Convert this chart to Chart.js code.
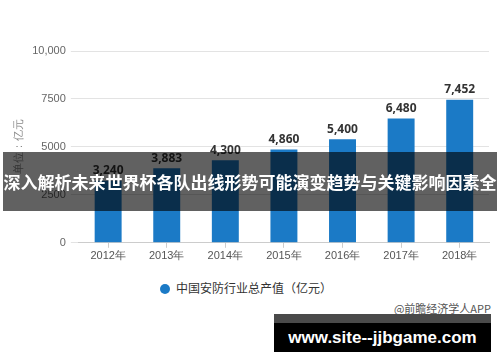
<!DOCTYPE html>
<html>
<head>
<meta charset="utf-8">
<script src="https://cdn.jsdelivr.net/npm/chart.js@4"></script>
<style>
    body { margin: 0; background: #fff; font-family: "Noto Sans CJK SC", "Noto Sans", sans-serif; }
    #wrap { position: relative; width: 500px; height: 362px; overflow: hidden; }
    #chartBox { position: absolute; left: 0; top: 0; width: 500px; height: 265px; }
    .legend { position: absolute; left: 160px; top: 279px; font-size: 12px; color: #333; }
    .legend .dot { display: inline-block; width: 10px; height: 10px; border-radius: 50%; background: #1b7ac6; vertical-align: -1px; margin-right: 6px; }
    .source { position: absolute; right: 9px; top: 300px; font-size: 11px; color: #555; }
    .banner { position: absolute; left: 3px; top: 152px; width: 494px; height: 59px; background: rgba(0,0,0,0.62);
              color: #fff; font-weight: bold; font-size: 17px; line-height: 59px; text-align: center; white-space: nowrap; }
    .site { position: absolute; left: 274px; top: 314px; width: 217px; height: 38px; background: #000;
            border-top: 9px solid #4a4a4a; box-sizing: border-box; color: #fff; font-weight: bold; font-size: 17px;
            line-height: 29px; text-align: center; white-space: nowrap; font-family: "Liberation Sans", sans-serif; }
</style>
</head>
<body>
<div id="wrap">
    <div id="chartBox"><canvas id="chart"></canvas></div>
    <div class="legend"><span class="dot"></span>中国安防行业总产值（亿元）</div>
    <div class="source">@前瞻经济学人APP</div>
    <div class="banner">深入解析未来世界杯各队出线形势可能演变趋势与关键影响因素全</div>
    <div class="site">www.site--jjbgame.com</div>
</div>
<script>
const years = ['2012年', '2013年', '2014年', '2015年', '2016年', '2017年', '2018年'];
const output = [3240, 3883, 4300, 4860, 5400, 6480, 7452];
const yTickLabels = { 0: '0', 2500: '2500', 5000: '5000', 7500: '7500', 10000: '10,000' };

// values above each bar
const valueLabels = {
    id: 'valueLabels',
    afterDatasetsDraw(chart) {
        const ctx = chart.ctx;
        const meta = chart.getDatasetMeta(0);
        ctx.save();
        ctx.font = 'bold 12px "Noto Sans", sans-serif';
        ctx.fillStyle = '#333';
        ctx.textAlign = 'center';
        ctx.textBaseline = 'bottom';
        meta.data.forEach((bar, i) => {
            ctx.fillText(output[i].toLocaleString('en-US'), bar.x, bar.y - 4);
        });
        ctx.restore();
    }
};

const ctx = document.getElementById('chart').getContext('2d');
new Chart(ctx, {
    type: 'bar',
    data: {
        labels: years,
        datasets: [{
            label: '中国安防行业总产值（亿元）',
            data: output,
            backgroundColor: '#1b7ac6',
            categoryPercentage: 0.92,
            barPercentage: 0.5
        }]
    },
    options: {
        responsive: true,
        maintainAspectRatio: false,
        animation: false,
        layout: { padding: { top: 51, left: 10, right: 11, bottom: 0 } },
        plugins: {
            legend: { display: false },
            tooltip: { enabled: false }
        },
        scales: {
            x: {
                grid: { drawOnChartArea: false, drawTicks: true, tickLength: 5, offset: false, color: '#ccc' },
                border: { color: '#ccc' },
                ticks: { color: '#555', font: { size: 11 }, padding: 2 }
            },
            y: {
                min: 0,
                max: 10000,
                grid: { color: '#e3e3e3', tickLength: 8 },
                border: { display: false },
                ticks: {
                    stepSize: 2500,
                    color: '#666',
                    font: { size: 11 },
                    padding: 5,
                    callback: v => yTickLabels[v]
                },
                title: { display: true, text: '单位：亿元', color: '#888', font: { size: 11 }, padding: 2 }
            }
        }
    },
    plugins: [valueLabels]
});
</script>
</body>
</html>
